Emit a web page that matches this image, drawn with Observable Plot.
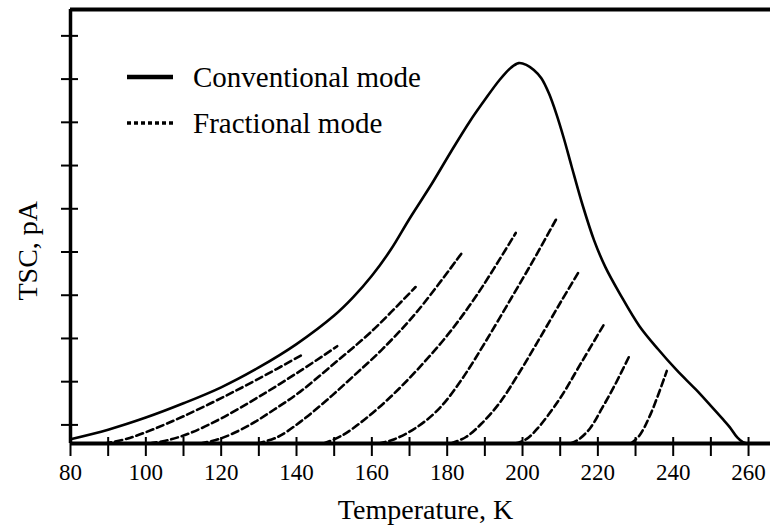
<!DOCTYPE html>
<html>
<head>
<meta charset="utf-8">
<script src="https://cdn.jsdelivr.net/npm/d3@7"></script>
<script src="https://cdn.jsdelivr.net/npm/@observablehq/plot@0.6"></script>
<style>
  html, body { margin: 0; padding: 0; background: #fff; }
  #wrap { position: relative; width: 770px; height: 526px; }
  #legend { position: absolute; left: 0; top: 0; pointer-events: none; }
</style>
</head>
<body>
<div id="wrap"></div>
<script>
// ---- Data ----
// Conventional mode TSC curve
const conventionalT   = [80, 90, 100, 110, 120, 130, 140, 150, 155, 160, 165, 170, 176, 181, 186, 190, 194, 197, 199, 201, 203, 205, 207, 209, 211, 213, 216, 219, 222, 226, 231, 236, 241, 246, 250, 253, 255, 257, 258.5, 259.5];
const conventionalTSC = [0.10, 0.32, 0.60, 0.93, 1.30, 1.76, 2.30, 2.96, 3.38, 3.88, 4.48, 5.20, 6.02, 6.75, 7.45, 7.95, 8.42, 8.70, 8.80, 8.76, 8.64, 8.45, 8.10, 7.62, 7.05, 6.42, 5.50, 4.70, 4.08, 3.44, 2.72, 2.18, 1.69, 1.25, 0.87, 0.58, 0.38, 0.14, 0.03, 0.00];

// Fractional mode TSC curves (one per fractional step)
const fractionalT = [
  [89, 95, 102, 110, 120, 130, 141.5],
  [101, 106, 112, 120, 130, 141, 150.8],
  [114.5, 120, 127, 134, 141, 150, 160, 171.6],
  [129.6, 135, 141, 148, 155, 163, 172, 184],
  [147.2, 152, 158, 165, 172, 180, 188, 198.2],
  [161.8, 166, 172, 178, 184, 190, 197, 203, 209.2],
  [181, 185, 189, 194, 199, 204, 210, 215.2],
  [198, 201, 204, 210, 215.4, 221.8],
  [212.7, 215, 218, 221, 224.5, 228.5],
  [228.7, 231, 234, 238.3]
];
const fractionalTSC = [
  [0, 0.11, 0.33, 0.63, 1.05, 1.50, 2.05],
  [0, 0.08, 0.25, 0.58, 1.08, 1.68, 2.25],
  [0, 0.12, 0.40, 0.78, 1.20, 1.85, 2.60, 3.62],
  [0, 0.15, 0.50, 1.00, 1.55, 2.20, 3.05, 4.42],
  [0, 0.18, 0.55, 1.08, 1.70, 2.50, 3.45, 4.87],
  [0, 0.10, 0.38, 0.82, 1.50, 2.33, 3.36, 4.26, 5.23],
  [0, 0.15, 0.45, 0.95, 1.62, 2.35, 3.25, 4.01],
  [0, 0.10, 0.35, 1.05, 1.84, 2.78],
  [0, 0.10, 0.36, 0.80, 1.35, 2.05],
  [0, 0.18, 0.68, 1.68]
];

// Axes
const xDomain = [80, 265.83];
const yDomain = [0, 10.04];
const xMinorTicks = d3.range(80, 261, 10);
const xTickLabels = [80, 100, 120, 140, 160, 180, 200, 220, 240, 260];
const yTicks = d3.range(0, 10).map(k => 0.43 + k);

const xTitle = "Temperature, K";
const yTitle = "TSC, pA";
const legendLabels = ["Conventional mode", "Fractional mode"];

// ---- Build tables ----
const convRows = conventionalT.map((t, i) => ({T: t, I: conventionalTSC[i]}));
const fracRows = fractionalT.flatMap((ts, k) => ts.map((t, i) => ({T: t, I: fractionalTSC[k][i], curve: k})));

const FONT = "'Liberation Serif', 'Times New Roman', serif";
const W = 770, H = 526, ML = 70, MR = 0, MT = 9, MB = 83;
const frameW = W - ML - MR, frameH = H - MT - MB;

const chart = Plot.plot({
  width: W,
  height: H,
  marginLeft: ML,
  marginRight: MR,
  marginTop: MT,
  marginBottom: MB,
  style: {fontFamily: FONT, background: "#fff", color: "#000"},
  x: {domain: xDomain, axis: null},
  y: {domain: yDomain, axis: null},
  marks: [
    Plot.line(fracRows, {x: "T", y: "I", z: "curve", stroke: "#000", strokeWidth: 2.6, strokeDasharray: "7,4", curve: "catmull-rom"}),
    Plot.line(convRows, {x: "T", y: "I", stroke: "#000", strokeWidth: 2.6, curve: "catmull-rom"}),
    // frame: left, bottom, top
    Plot.ruleY([yDomain[0]], {stroke: "#000", strokeWidth: 4}),
    Plot.ruleY([yDomain[1]], {stroke: "#000", strokeWidth: 4}),
    Plot.ruleX([xDomain[0]], {stroke: "#000", strokeWidth: 3.5}),
    // ticks crossing the axes
    Plot.tickX(xMinorTicks, {x: d => d, stroke: "#000", strokeWidth: 2, insetTop: frameH - 6, insetBottom: -13}),
    Plot.tickY(yTicks, {y: d => d, stroke: "#000", strokeWidth: 2, insetLeft: -9, insetRight: frameW - 8}),
    // tick labels
    Plot.text(xTickLabels, {x: d => d, text: d => String(d), frameAnchor: "bottom", dy: 29, fontSize: 23, fill: "#000", fontFamily: FONT, lineAnchor: "middle"}),
    // axis titles
    Plot.text([xTitle], {frameAnchor: "bottom", dx: 5, dy: 67, fontSize: 28, fill: "#000", fontFamily: FONT, lineAnchor: "middle"}),
    Plot.text([yTitle], {frameAnchor: "left", rotate: -90, dx: -42, dy: 74, fontSize: 28, fill: "#000", fontFamily: FONT, lineAnchor: "middle"})
  ]
});

const wrap = document.getElementById("wrap");
wrap.appendChild(chart);

// ---- Legend overlay ----
const legend = d3.select(wrap).append("svg")
  .attr("id", "legend")
  .attr("width", W).attr("height", H);
const items = [
  {label: legendLabels[0], y: 77, dash: null, w: 4.5},
  {label: legendLabels[1], y: 123, dash: "4,3", w: 3.5}
];
items.forEach(it => {
  legend.append("line")
    .attr("x1", 127).attr("x2", 173).attr("y1", it.y).attr("y2", it.y)
    .attr("stroke", "#000").attr("stroke-width", it.w)
    .attr("stroke-dasharray", it.dash);
  legend.append("text")
    .attr("x", 193).attr("y", it.y + 10)
    .attr("font-family", FONT).attr("font-size", 29).attr("fill", "#000")
    .text(it.label);
});
</script>
</body>
</html>
